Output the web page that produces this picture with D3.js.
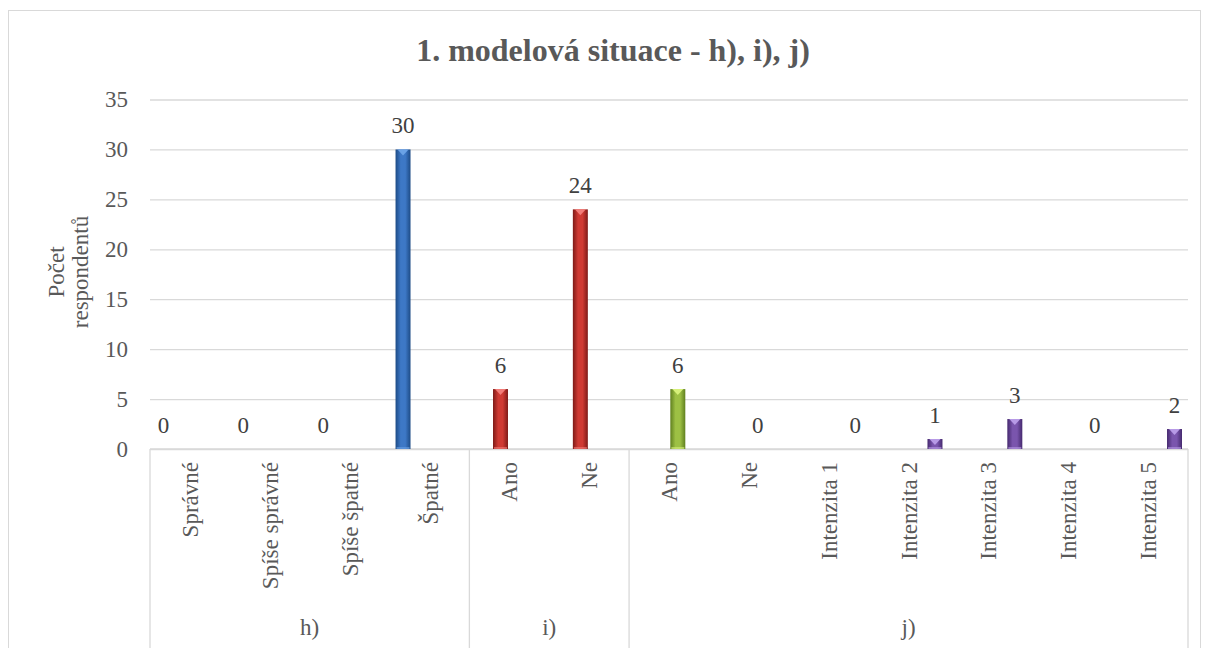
<!DOCTYPE html>
<html lang="cs">
<head>
<meta charset="UTF-8">
<title>1. modelová situace</title>
<script src="https://d3js.org/d3.v7.min.js"></script>
<style>
    body { margin: 0; background: #fff; }
    svg { display: block; }
    svg text { font-family: "Liberation Serif", "Times New Roman", Times, "DejaVu Serif", serif; }
</style>
</head>
<body>
<div id="chart"></div>
<script>
    // category labels (13 of them) and the groups they belong to
    const categories = ["Správné", "Spíše správné", "Spíše špatné", "Špatné",
                        "Ano", "Ne",
                        "Ano", "Ne", "Intenzita 1", "Intenzita 2", "Intenzita 3", "Intenzita 4", "Intenzita 5"];
    const groupNames = ["h)", "i)", "j)"];
    const groupSizes = [4, 2, 7];

    // four series, each covering its own run of categories
    const seriesNames = ["h", "i", "jAno", "jInt"];
    const seriesStart = [0, 4, 6, 8];
    const hValues = [0, 0, 0, 30];
    const iValues = [6, 24];
    const jAnoValues = [6, 0];
    const jIntValues = [0, 1, 3, 0, 2];

    const yTicks = [0, 5, 10, 15, 20, 25, 30, 35];

    const width = 1208, height = 648;
    const plotLeft = 150, plotRight = 1188, plotTop = 99.5, plotBottom = 449;
    const textColor = "#595959", gridColor = "#d9d9d9";

    const svg = d3.select("#chart").append("svg")
        .attr("width", width).attr("height", height);

    // outer chart frame
    svg.append("rect")
        .attr("x", 8.5).attr("y", 10.5)
        .attr("width", 1192).attr("height", 660)
        .attr("fill", "none").attr("stroke", gridColor);

    // title
    svg.append("text")
        .attr("x", 613).attr("y", 61)
        .attr("text-anchor", "middle")
        .attr("font-size", 32).attr("font-weight", "bold")
        .attr("fill", textColor)
        .text("1. modelová situace - h), i), j)");

    const x0 = d3.scaleBand()
        .domain(d3.range(categories.length))
        .range([plotLeft, plotRight]);

    const x1 = d3.scaleBand()
        .domain(seriesNames)
        .range([6, x0.bandwidth() - 6])
        .paddingInner(0.15);

    const y = d3.scaleLinear().domain([0, 35]).range([plotBottom, plotTop]);

    // y axis with gridlines
    const yAxis = svg.append("g")
        .attr("transform", `translate(${plotLeft},0)`)
        .call(d3.axisLeft(y).tickValues(yTicks).tickSize(-(plotRight - plotLeft)).tickPadding(22));
    yAxis.attr("font-family", null);
    yAxis.select(".domain").remove();
    yAxis.selectAll(".tick line").attr("stroke", gridColor).attr("stroke-width", 1.3);
    yAxis.selectAll(".tick text")
        .attr("font-size", 23)
        .attr("fill", textColor);

    // y axis title, two lines
    const yTitle = svg.append("text")
        .attr("transform", "translate(0,272) rotate(-90)")
        .attr("text-anchor", "middle")
        .attr("font-size", 23)
        .attr("fill", textColor);
    yTitle.append("tspan").attr("x", 0).attr("y", 64).text("Počet");
    yTitle.append("tspan").attr("x", 0).attr("y", 88).text("respondentů");

    // category axis line
    svg.append("line")
        .attr("x1", plotLeft).attr("x2", plotRight)
        .attr("y1", plotBottom).attr("y2", plotBottom)
        .attr("stroke", gridColor).attr("stroke-width", 1.3);

    // group separators
    let bounds = [0];
    groupSizes.forEach(n => bounds.push(bounds[bounds.length - 1] + n));
    const edgeX = d => d < categories.length ? x0(d) : plotRight;
    svg.selectAll(".sep")
        .data(bounds)
        .enter()
        .append("line")
        .attr("x1", edgeX)
        .attr("x2", edgeX)
        .attr("y1", plotBottom).attr("y2", height)
        .attr("stroke", gridColor).attr("stroke-width", 1.3);

    // category labels, rotated
    svg.selectAll(".cat")
        .data(categories)
        .enter()
        .append("text")
        .attr("transform", (d, i) => `translate(${x0(i) + x0.bandwidth() / 2},462) rotate(-90)`)
        .attr("text-anchor", "end")
        .attr("dy", "0.35em")
        .attr("font-size", 23)
        .attr("fill", textColor)
        .text(d => d);

    // group labels
    svg.selectAll(".grp")
        .data(groupNames)
        .enter()
        .append("text")
        .attr("x", (d, i) => (edgeX(bounds[i]) + edgeX(bounds[i + 1])) / 2)
        .attr("y", 635)
        .attr("text-anchor", "middle")
        .attr("font-size", 23)
        .attr("fill", textColor)
        .text(d => d);

    // bar colours: edge, middle, highlight
    const colors = {
        h:    ["#1d4b86", "#3d78c6", "#6aa2e6"],
        i:    ["#7e1a17", "#cf3a33", "#f27c78"],
        jAno: ["#60801f", "#9dc044", "#d6f07a"],
        jInt: ["#45296e", "#7a55ad", "#b79ae6"]
    };

    const defs = svg.append("defs");
    seriesNames.forEach(s => {
        const g = defs.append("linearGradient")
            .attr("id", "grad-" + s)
            .attr("x1", "0").attr("x2", "1").attr("y1", "0").attr("y2", "0");
        g.append("stop").attr("offset", "0%").attr("stop-color", colors[s][0]);
        g.append("stop").attr("offset", "35%").attr("stop-color", colors[s][1]);
        g.append("stop").attr("offset", "65%").attr("stop-color", colors[s][1]);
        g.append("stop").attr("offset", "100%").attr("stop-color", colors[s][0]);
    });

    const seriesValues = [hValues, iValues, jAnoValues, jIntValues];
    let points = [];
    seriesNames.forEach((s, k) => {
        seriesValues[k].forEach((v, j) => {
            points.push({ series: s, cat: seriesStart[k] + j, value: v });
        });
    });

    const bw = x1.bandwidth();
    const bars = points.filter(d => d.value > 0);

    svg.selectAll(".bar")
        .data(bars)
        .enter()
        .append("rect")
        .attr("x", d => x0(d.cat) + x1(d.series))
        .attr("y", d => y(d.value))
        .attr("width", bw)
        .attr("height", d => y(0) - y(d.value))
        .attr("fill", d => `url(#grad-${d.series})`);

    // bevel highlight on top of each bar
    svg.selectAll(".cap")
        .data(bars)
        .enter()
        .append("path")
        .attr("d", d => {
            const bx = x0(d.cat) + x1(d.series);
            const by = y(d.value);
            return `M${bx + 2},${by} L${bx + bw - 2},${by} L${bx + bw / 2},${by + 6} Z`;
        })
        .attr("fill", d => colors[d.series][2]);

    // light line along the bottom of each bar
    svg.selectAll(".foot")
        .data(bars)
        .enter()
        .append("rect")
        .attr("x", d => x0(d.cat) + x1(d.series) + 1)
        .attr("y", y(0) - 2)
        .attr("width", bw - 2)
        .attr("height", 2)
        .attr("fill", d => colors[d.series][2])
        .attr("opacity", 0.6);

    // data labels
    svg.selectAll(".lbl")
        .data(points)
        .enter()
        .append("text")
        .attr("x", d => x0(d.cat) + x1(d.series) + bw / 2)
        .attr("y", d => y(d.value) - 16)
        .attr("text-anchor", "middle")
        .attr("font-size", 23)
        .attr("fill", "#404040")
        .text(d => d.value);
</script>
</body>
</html>
